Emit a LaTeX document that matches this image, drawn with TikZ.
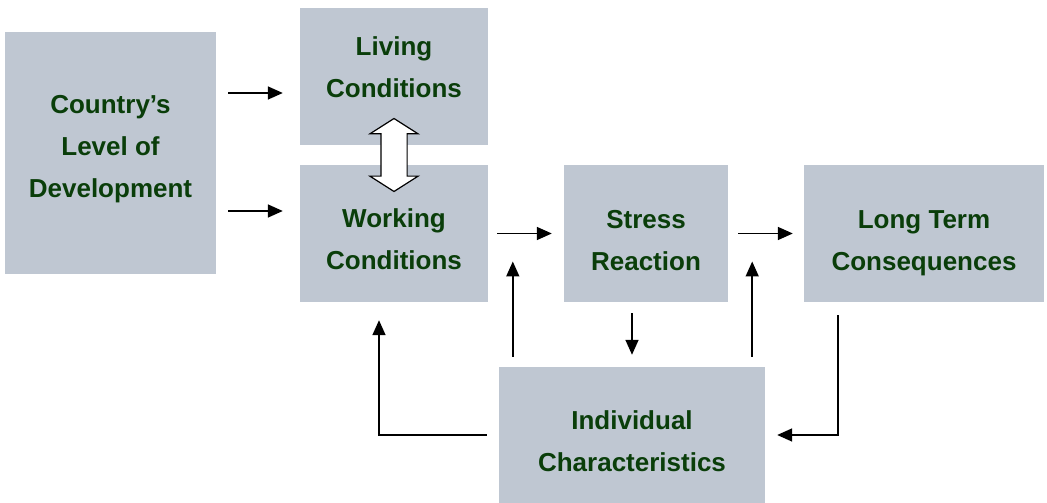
\documentclass[tikz,border=0pt]{standalone}
\usepackage{fontspec}
\setmainfont{Liberation Sans}
\usepackage{tikz}
\usetikzlibrary{shapes.arrows,arrows.meta,calc}
\definecolor{boxgrey}{RGB}{191,199,210}
\definecolor{darkgreen}{RGB}{10,62,10}
\tikzstyle{factor} = [rectangle, fill = boxgrey, inner sep = 0pt]
\tikzstyle{caption} = [inner sep = 0pt, text centered, align = center, text = darkgreen, font = \fontsize{26}{42}\selectfont\bfseries]
\tikzstyle{swaparrow} = [double arrow, draw = black, fill = white, line width = 1.2pt, double arrow head extend = 11pt, double arrow tip angle = 115, minimum height = 73pt, minimum width = 46pt, inner xsep = 0pt, inner ysep = 12.5pt, rotate = 90]
\tikzstyle{arrow} = [line width = 1.6pt, -{Triangle[length = 15pt, width = 13pt]}]
\begin{document}
\begin{tikzpicture}[x = 1pt, y = 1pt]
    \useasboundingbox (0,0) rectangle (1047,503);
    \node (country) [factor, minimum width = 211pt, minimum height = 242pt, label = {[caption, yshift = 4pt]center:{Country's\\ Level of\\ Development}}] at (110.5,350) {};
    \node (living) [factor, minimum width = 188pt, minimum height = 137pt, label = {[caption, yshift = 9pt]center:{Living\\ Conditions}}] at (394,426.5) {};
    \node (working) [factor, minimum width = 188pt, minimum height = 137pt, label = {[caption, yshift = -6pt]center:{Working\\ Conditions}}] at (394,269.5) {};
    \node (stress) [factor, minimum width = 164pt, minimum height = 137pt, label = {[caption, yshift = -7pt]center:{Stress\\ Reaction}}] at (646,269.5) {};
    \node (longterm) [factor, minimum width = 240pt, minimum height = 137pt, label = {[caption, yshift = -10pt]center:{Long Term\\ Consequences}}] at (924,269.5) {};
    \node (indiv) [factor, minimum width = 266pt, minimum height = 136pt, label = {[caption, yshift = -6pt]center:{Individual\\ Characteristics}}] at (632,68) {};
    \node (swap) [swaparrow] at ($(living.south)!0.5!(working.north)$) {};

    \draw [arrow, shorten <= 12pt, shorten >= 17pt] ([yshift=60pt]country.east) -- ([yshift=-16.5pt]living.west);
    \draw [arrow, shorten <= 12pt, shorten >= 17pt] ([yshift=-58pt]country.east) -- ([yshift=22.5pt]working.west);
    \draw [arrow, shorten <= 9pt, shorten >= 12pt] (working.east) -- (stress.west);
    \draw [arrow, shorten <= 10pt, shorten >= 11pt] (stress.east) -- (longterm.west);
    \draw [arrow, shorten <= 11pt, shorten >= 12pt] (stress.south -| indiv.north) -- (indiv.north);

    \draw [arrow] ($(indiv.north west)+(14,10)$) -- ($(indiv.north west |- working.east)+(14,-28)$);
    \draw [arrow] ($(indiv.north east)+(-13,10)$) -- ($(indiv.north east |- stress.east)+(-13,-28)$);
    \draw [arrow] ([xshift=-12pt]indiv.west) -| ($(working.south)+(-15,-18)$);
    \draw [arrow] ($(longterm.south west)+(34,-13)$) |- ([xshift=12pt]indiv.east);
\end{tikzpicture}
\end{document}
